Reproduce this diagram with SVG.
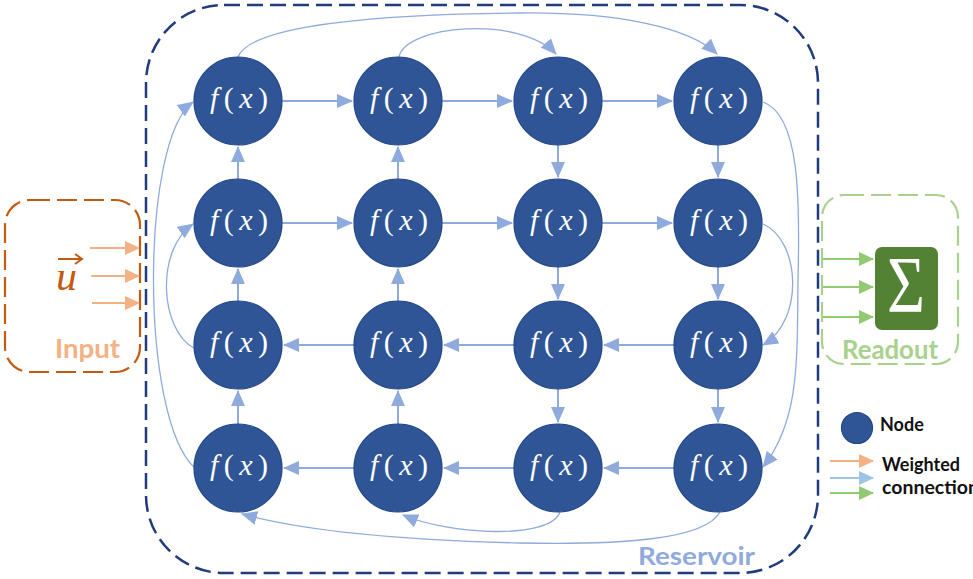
<svg xmlns="http://www.w3.org/2000/svg" width="973" height="579" viewBox="0 0 973 579">
<style>
.node{fill:#2F5597;stroke:#24478A;stroke-width:1.2}
.fx{fill:#fff;font-family:"Liberation Serif",serif;font-size:30px}
.it{font-style:italic}
.s{stroke:#8FAADC;stroke-width:2;fill:none;marker-end:url(#ab)}
.c{stroke:#8FAADC;stroke-width:1.3;fill:none;marker-end:url(#ab)}
.lbl{font-family:Lato,"Liberation Sans",sans-serif;font-weight:700}
</style>
<defs>
<marker id="ab" markerUnits="userSpaceOnUse" markerWidth="16" markerHeight="14" viewBox="0 0 16 14" refX="15" refY="7" orient="auto"><path d="M0,0 L16,7 L0,14 z" fill="#8FAADC"/></marker>
<marker id="ao" markerUnits="userSpaceOnUse" markerWidth="15" markerHeight="14" viewBox="0 0 15 14" refX="14" refY="7" orient="auto"><path d="M0,0 L15,7 L0,14 z" fill="#F4B183"/></marker>
<marker id="ag" markerUnits="userSpaceOnUse" markerWidth="15" markerHeight="14" viewBox="0 0 15 14" refX="14" refY="7" orient="auto"><path d="M0,0 L15,7 L0,14 z" fill="#92C973"/></marker>
<marker id="al" markerUnits="userSpaceOnUse" markerWidth="15" markerHeight="14" viewBox="0 0 15 14" refX="14" refY="7" orient="auto"><path d="M0,0 L15,7 L0,14 z" fill="#9DC3E6"/></marker>
</defs>

<g id="reservoir">
<rect x="146" y="5" width="672" height="568" rx="78" fill="none" stroke="#203C7C" stroke-width="2.5" stroke-dasharray="16 7"/>
<text class="lbl" x="638" y="565" font-size="25" fill="#8FAADC" textLength="117" lengthAdjust="spacingAndGlyphs">Reservoir</text>
</g>

<g id="input">
<rect x="5" y="200" width="135" height="172" rx="25" fill="none" stroke="#C55A11" stroke-width="2.2" stroke-dasharray="20 7"/>
<text x="56" y="290" font-family="'Liberation Serif',serif" font-style="italic" font-size="42" fill="#C55A11">u</text>
<path d="M58,259 H81 M75,254 L82,259 L75,264" stroke="#C55A11" stroke-width="2" fill="none"/>
<text class="lbl" x="55" y="358" font-size="27" fill="#F4B183" textLength="65" lengthAdjust="spacingAndGlyphs">Input</text>
<g stroke="#F4B183" stroke-width="2" marker-end="url(#ao)">
<line x1="90" y1="248" x2="139" y2="248"/>
<line x1="91" y1="276" x2="139" y2="276"/>
<line x1="92" y1="303" x2="139" y2="303"/>
</g>
</g>

<g id="readout">
<rect x="822" y="195" width="136" height="169" rx="22" fill="none" stroke="#A9D18E" stroke-width="2.2" stroke-dasharray="20 7"/>
<rect x="875" y="247" width="63" height="83" rx="7" fill="#548235"/>
<text x="906" y="312" text-anchor="middle" font-family="'Liberation Serif',serif" font-size="80" fill="#fff" textLength="38" lengthAdjust="spacingAndGlyphs">Σ</text>
<text class="lbl" x="842" y="359" font-size="27" fill="#A9D18E" textLength="96" lengthAdjust="spacingAndGlyphs">Readout</text>
<g stroke="#92C973" stroke-width="2" marker-end="url(#ag)">
<line x1="823" y1="259" x2="873" y2="259"/>
<line x1="823" y1="287" x2="873" y2="287"/>
<line x1="823" y1="317" x2="873" y2="317"/>
</g>
</g>

<g id="legend">
<circle cx="857" cy="428" r="15.5" class="node"/>
<text class="lbl" x="880" y="431" font-size="18" fill="#111">Node</text>
<line x1="830" y1="461" x2="873" y2="461" stroke="#F4B183" stroke-width="2" marker-end="url(#ao)"/>
<line x1="830" y1="478" x2="873" y2="478" stroke="#9DC3E6" stroke-width="2" marker-end="url(#al)"/>
<line x1="830" y1="493" x2="873" y2="493" stroke="#92C973" stroke-width="2" marker-end="url(#ag)"/>
<text class="lbl" x="882" y="471" font-size="18" fill="#111" textLength="78" lengthAdjust="spacingAndGlyphs">Weighted</text>
<text class="lbl" x="882" y="494" font-size="18" fill="#111" textLength="97" lengthAdjust="spacingAndGlyphs">connection</text>
</g>

<g id="connectors">
<line class="s" x1="282" y1="101" x2="352" y2="101"/>
<line class="s" x1="442" y1="101" x2="512" y2="101"/>
<line class="s" x1="602" y1="101" x2="672" y2="101"/>
<line class="s" x1="282" y1="223" x2="352" y2="223"/>
<line class="s" x1="442" y1="223" x2="512" y2="223"/>
<line class="s" x1="602" y1="223" x2="672" y2="223"/>
<line class="s" x1="354" y1="345" x2="284" y2="345"/>
<line class="s" x1="514" y1="345" x2="444" y2="345"/>
<line class="s" x1="674" y1="345" x2="604" y2="345"/>
<line class="s" x1="354" y1="468" x2="284" y2="468"/>
<line class="s" x1="514" y1="468" x2="444" y2="468"/>
<line class="s" x1="674" y1="468" x2="604" y2="468"/>
<line class="s" x1="238" y1="179" x2="238" y2="147"/>
<line class="s" x1="238" y1="301" x2="238" y2="269"/>
<line class="s" x1="238" y1="424" x2="238" y2="391"/>
<line class="s" x1="398" y1="179" x2="398" y2="147"/>
<line class="s" x1="398" y1="301" x2="398" y2="269"/>
<line class="s" x1="398" y1="424" x2="398" y2="391"/>
<line class="s" x1="558" y1="145" x2="558" y2="177"/>
<line class="s" x1="558" y1="267" x2="558" y2="299"/>
<line class="s" x1="558" y1="389" x2="558" y2="422"/>
<line class="s" x1="718" y1="145" x2="718" y2="177"/>
<line class="s" x1="718" y1="267" x2="718" y2="299"/>
<line class="s" x1="718" y1="389" x2="718" y2="422"/>
<path class="c" d="M238,57 C250,25 380,14 520,13 C620,12 690,28 717,54"/>
<path class="c" d="M399,57 C405,25 520,15 556,54"/>
<path class="c" d="M195,468 C140,420 140,140 193,102"/>
<path class="c" d="M194,348 C160,330 155,250 193,224"/>
<path class="c" d="M763,224 C800,240 805,320 763,345"/>
<path class="c" d="M763,102 C800,115 800,200 798,280 C797,360 800,420 763,467"/>
<path class="c" d="M720,512 C705,540 620,545 520,543 C400,540 300,530 242,514"/>
<path class="c" d="M560,512 C550,540 450,535 403,515"/>
</g>

<g id="n11"><circle cx="238" cy="101" r="44" class="node"/><text class="fx" x="239" y="108" text-anchor="middle" textLength="58" lengthAdjust="spacing"><tspan class="it">f</tspan>(<tspan class="it">x</tspan>)</text></g>
<g id="n12"><circle cx="398" cy="101" r="44" class="node"/><text class="fx" x="399" y="108" text-anchor="middle" textLength="58" lengthAdjust="spacing"><tspan class="it">f</tspan>(<tspan class="it">x</tspan>)</text></g>
<g id="n13"><circle cx="558" cy="101" r="44" class="node"/><text class="fx" x="559" y="108" text-anchor="middle" textLength="58" lengthAdjust="spacing"><tspan class="it">f</tspan>(<tspan class="it">x</tspan>)</text></g>
<g id="n14"><circle cx="718" cy="101" r="44" class="node"/><text class="fx" x="719" y="108" text-anchor="middle" textLength="58" lengthAdjust="spacing"><tspan class="it">f</tspan>(<tspan class="it">x</tspan>)</text></g>
<g id="n21"><circle cx="238" cy="223" r="44" class="node"/><text class="fx" x="239" y="230" text-anchor="middle" textLength="58" lengthAdjust="spacing"><tspan class="it">f</tspan>(<tspan class="it">x</tspan>)</text></g>
<g id="n22"><circle cx="398" cy="223" r="44" class="node"/><text class="fx" x="399" y="230" text-anchor="middle" textLength="58" lengthAdjust="spacing"><tspan class="it">f</tspan>(<tspan class="it">x</tspan>)</text></g>
<g id="n23"><circle cx="558" cy="223" r="44" class="node"/><text class="fx" x="559" y="230" text-anchor="middle" textLength="58" lengthAdjust="spacing"><tspan class="it">f</tspan>(<tspan class="it">x</tspan>)</text></g>
<g id="n24"><circle cx="718" cy="223" r="44" class="node"/><text class="fx" x="719" y="230" text-anchor="middle" textLength="58" lengthAdjust="spacing"><tspan class="it">f</tspan>(<tspan class="it">x</tspan>)</text></g>
<g id="n31"><circle cx="238" cy="345" r="44" class="node"/><text class="fx" x="239" y="352" text-anchor="middle" textLength="58" lengthAdjust="spacing"><tspan class="it">f</tspan>(<tspan class="it">x</tspan>)</text></g>
<g id="n32"><circle cx="398" cy="345" r="44" class="node"/><text class="fx" x="399" y="352" text-anchor="middle" textLength="58" lengthAdjust="spacing"><tspan class="it">f</tspan>(<tspan class="it">x</tspan>)</text></g>
<g id="n33"><circle cx="558" cy="345" r="44" class="node"/><text class="fx" x="559" y="352" text-anchor="middle" textLength="58" lengthAdjust="spacing"><tspan class="it">f</tspan>(<tspan class="it">x</tspan>)</text></g>
<g id="n34"><circle cx="718" cy="345" r="44" class="node"/><text class="fx" x="719" y="352" text-anchor="middle" textLength="58" lengthAdjust="spacing"><tspan class="it">f</tspan>(<tspan class="it">x</tspan>)</text></g>
<g id="n41"><circle cx="238" cy="468" r="44" class="node"/><text class="fx" x="239" y="475" text-anchor="middle" textLength="58" lengthAdjust="spacing"><tspan class="it">f</tspan>(<tspan class="it">x</tspan>)</text></g>
<g id="n42"><circle cx="398" cy="468" r="44" class="node"/><text class="fx" x="399" y="475" text-anchor="middle" textLength="58" lengthAdjust="spacing"><tspan class="it">f</tspan>(<tspan class="it">x</tspan>)</text></g>
<g id="n43"><circle cx="558" cy="468" r="44" class="node"/><text class="fx" x="559" y="475" text-anchor="middle" textLength="58" lengthAdjust="spacing"><tspan class="it">f</tspan>(<tspan class="it">x</tspan>)</text></g>
<g id="n44"><circle cx="718" cy="468" r="44" class="node"/><text class="fx" x="719" y="475" text-anchor="middle" textLength="58" lengthAdjust="spacing"><tspan class="it">f</tspan>(<tspan class="it">x</tspan>)</text></g>
</svg>
